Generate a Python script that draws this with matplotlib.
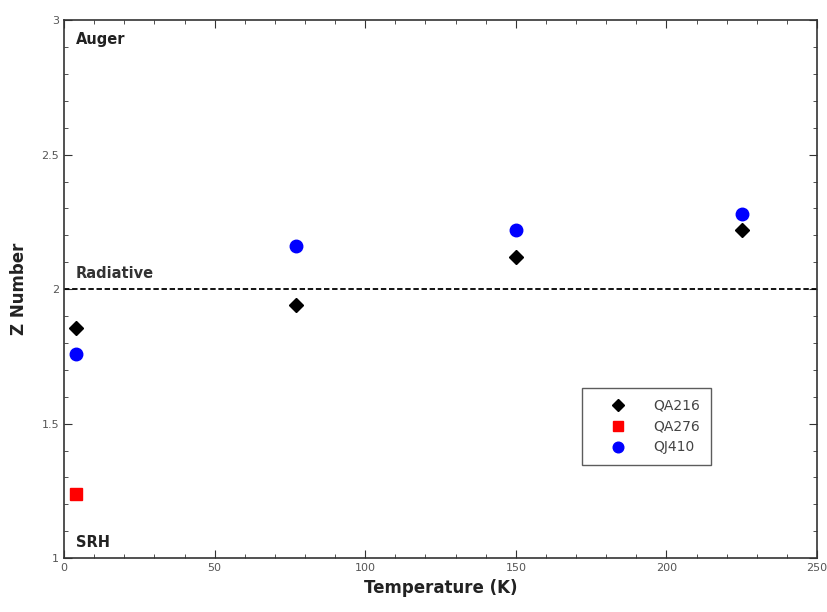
import matplotlib.pyplot as plt
from matplotlib.ticker import MultipleLocator

# data
qa216_t = [4, 77, 150, 225]
qa216_z = [1.855, 1.94, 2.12, 2.22]
qa276_t = [4]
qa276_z = [1.24]
qj410_t = [4, 77, 150, 225]
qj410_z = [1.76, 2.16, 2.22, 2.28]

fig = plt.figure(figsize=(8.27, 6.12), dpi=100)
ax = fig.add_axes([0.0774, 0.088, 0.9106, 0.879])

ax.plot(qa216_t, qa216_z, 'D', color='black', markersize=7, label='QA216', linestyle='none')
ax.plot(qa276_t, qa276_z, 's', color='red', markersize=8.5, label='QA276', linestyle='none')
ax.plot(qj410_t, qj410_z, 'o', color='blue', markersize=9, label='QJ410', linestyle='none')

ax.axhline(2, color='black', linestyle=(0, (3, 1.5)), linewidth=1.3)

ax.set_xlim(0, 250)
ax.set_ylim(1, 3)
ax.xaxis.set_minor_locator(MultipleLocator(10))
ax.yaxis.set_minor_locator(MultipleLocator(0.1))
ax.set_xticks([0, 50, 100, 150, 200, 250])
ax.set_xticklabels(['0', '50', '100', '150', '200', '250'])
ax.set_yticks([1, 1.5, 2, 2.5, 3])
ax.set_yticklabels(['1', '1.5', '2', '2.5', '3'])
ax.tick_params(which='both', direction='in', top=True, right=True,
               labelsize=8, labelcolor='#555555', color='#333333')
ax.tick_params(which='major', length=6)
ax.tick_params(which='minor', length=3)
for s in ax.spines.values():
    s.set_color('#333333')
    s.set_linewidth(1.2)

ax.set_xlabel('Temperature (K)', fontsize=12, fontweight='bold', color='#222222', labelpad=4)
ax.set_ylabel('Z Number', fontsize=12, fontweight='bold', color='#222222', labelpad=10)

ax.text(4, 2.93, 'Auger', fontsize=10.5, fontweight='bold', color='#222222', va='center')
ax.text(4, 2.06, 'Radiative', fontsize=10.5, fontweight='bold', color='#333333', va='center')
ax.text(4, 1.06, 'SRH', fontsize=10.5, fontweight='bold', color='#222222', va='center')

leg = ax.legend(loc='upper left', bbox_to_anchor=(0.688, 0.316), borderaxespad=0,
                fontsize=10, frameon=True, fancybox=False, edgecolor='#333333',
                markerscale=0.85, handlelength=3.7, handletextpad=0.7,
                borderpad=0.75, labelspacing=0.5, labelcolor='#444444')
leg.get_frame().set_linewidth(1.0)

fig.savefig('out.png', dpi=100)
